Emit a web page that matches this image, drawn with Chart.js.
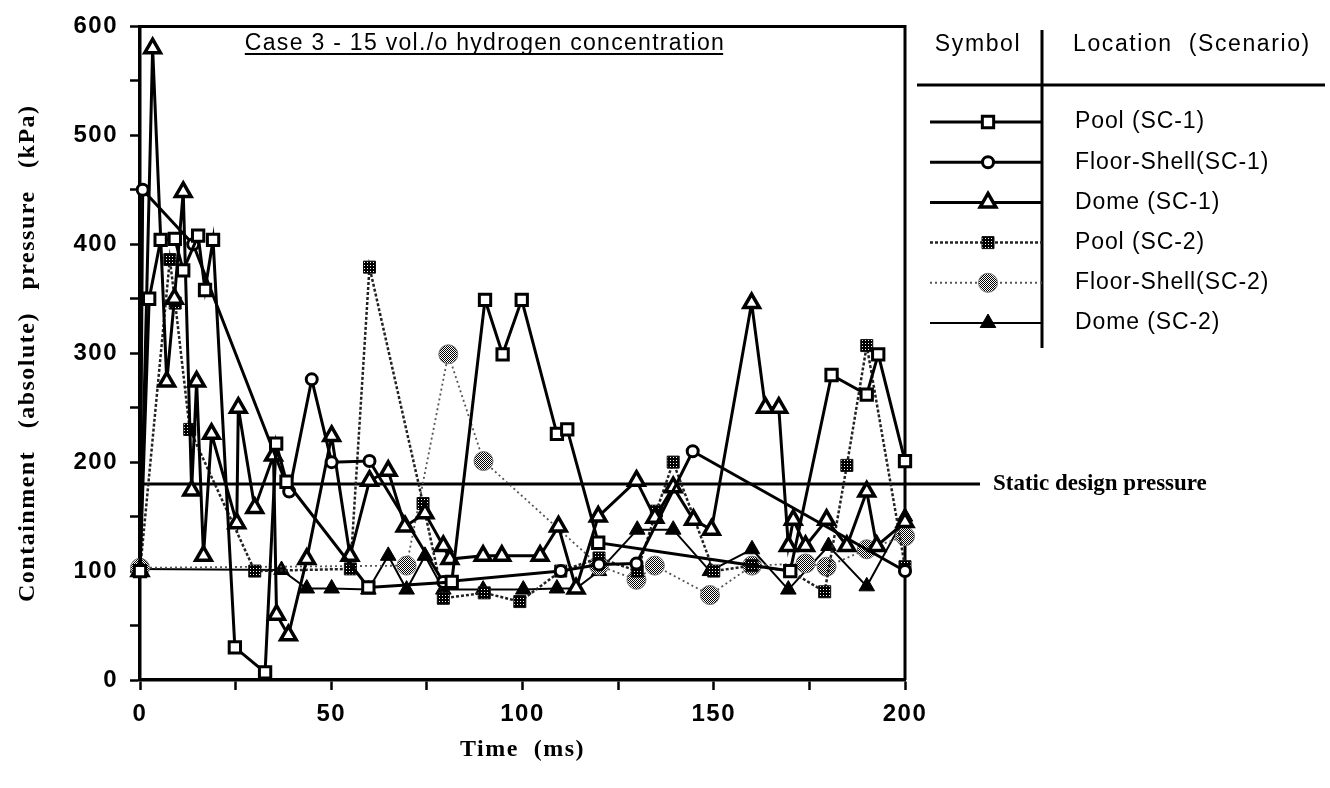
<!DOCTYPE html>
<html>
<head>
<meta charset="utf-8">
<title>Containment pressure - Case 3</title>
<script src="https://cdn.jsdelivr.net/npm/chart.js@4.4.1/dist/chart.umd.min.js"></script>
<style>
html,body{margin:0;padding:0;background:#fff;}
#box{width:1330px;height:788px;position:relative;}
canvas{display:block;}
</style>
</head>
<body>
<div id="box"><canvas id="chart" width="1330" height="788"></canvas></div>
<script>
// ---------------- data ----------------
const poolSC1Time  = [0, 2.4, 5.4, 9.1, 11.3, 15.2, 17, 19.1, 24.8, 32.7, 35.6, 38.3, 59.7, 81.5, 90.2, 94.8, 99.8, 109, 111.7, 119.8, 170, 180.8, 190, 193, 200];
const poolSC1Press = [100, 350, 404, 405, 376, 408, 358, 404, 30, 7, 217, 182, 85, 90, 349, 299, 349, 226, 230, 126, 100, 280, 262, 299, 201];

const floorSC1Time  = [0, 0.7, 13.9, 39, 44.9, 50.1, 60, 79.3, 110, 120, 129.8, 144.5, 200];
const floorSC1Press = [100, 450, 400, 173, 276, 200, 201, 90, 100, 106, 107, 210, 100];

const domeSC1Time  = [0, 3.3, 7, 9, 11.3, 13.5, 14.8, 16.6, 18.7, 25.3, 25.7, 30, 34.9, 35.7, 38.8, 43.6, 50.1, 54.9, 60, 64.9, 69.3, 74.5, 79.3, 81, 89.7, 94.6, 104.6, 109.4, 114, 119.8, 129.8, 134.6, 139.4, 144.7, 149.4, 159.9, 163.5, 167, 169.5, 170.8, 174, 179.5, 184.8, 190, 192.6, 200];
const domeSC1Press = [100, 580, 274, 350, 448, 174, 274, 114, 226, 144, 250, 158, 206, 60, 41, 111, 224, 114, 183, 192, 141, 153, 123, 111, 114, 114, 114, 141, 84, 150, 183, 149, 177, 147, 138, 346, 250, 250, 123, 147, 123, 147, 123, 173, 123, 145];

const poolSC2Time  = [0, 7.8, 9.2, 13, 30, 55, 60, 74, 79.3, 90, 99.3, 110, 120, 130, 135, 139.4, 150, 160, 170, 179, 184.8, 190, 200];
const poolSC2Press = [100, 386, 346, 230, 100, 102, 379, 162, 75, 80, 72, 100, 112, 100, 155, 200, 100, 105, 100, 81, 197, 307, 104];

const floorSC2Time  = [0, 69.7, 80.6, 89.8, 120, 129.8, 134.6, 149, 160, 174, 179.5, 190, 200];
const floorSC2Press = [103, 105, 299, 201, 105, 92, 105, 78, 105, 107, 104, 120, 132];

const domeSC2Time  = [0, 37, 43.6, 50.1, 59.7, 64.9, 69.7, 74.5, 79.3, 89.7, 100.2, 109, 114, 120, 130, 139.4, 149, 160, 169.5, 180, 190, 200];
const domeSC2Press = [102, 101, 84, 84, 83, 114, 83, 114, 83, 83, 83, 84, 84, 100, 138, 138, 100, 120, 83, 123, 86, 150];

const legendLabels = ['Pool (SC-1)', 'Floor-Shell(SC-1)', 'Dome (SC-1)', 'Pool (SC-2)', 'Floor-Shell(SC-2)', 'Dome (SC-2)'];
const legendHeader = ['Symbol', 'Location  (Scenario)'];
const chartTitle = 'Case 3 - 15 vol./o hydrogen concentration';
const xAxisTitle = 'Time  (ms)';
const yAxisTitle = 'Containment   (absolute)   pressure   (kPa)';
const staticDesignPressure = 180;
const staticLabel = 'Static design pressure';
const xMajorStep = 50, yMajorStep = 100;

// ---------------- helpers ----------------
function pts(t, p) { return t.map((x, i) => ({x: x, y: p[i]})); }
function makePattern(size, darkCells) {
  const c = document.createElement('canvas'); c.width = size; c.height = size;
  const g = c.getContext('2d');
  g.fillStyle = '#fff'; g.fillRect(0, 0, size, size);
  g.fillStyle = '#000';
  darkCells.forEach(([a, b]) => g.fillRect(a, b, 1, 1));
  return document.getElementById('chart').getContext('2d').createPattern(c, 'repeat');
}
const lightHatch = makePattern(2, [[0, 0], [1, 1]]);
const darkHatch = makePattern(3, [[0,0],[1,0],[2,0],[0,1],[2,1],[0,2],[1,2],[2,2]]);

const styles = [
  {pointStyle: 'rect',     radius: 8,   fill: '#fff',      stroke: '#000', pbw: 3,   line: '#000', lw: 3,   dash: []},
  {pointStyle: 'circle',   radius: 5.5, fill: '#fff',      stroke: '#000', pbw: 3,   line: '#000', lw: 3,   dash: []},
  {pointStyle: 'triangle', radius: 9,   fill: '#fff',      stroke: '#000', pbw: 3.5, line: '#000', lw: 3,   dash: []},
  {pointStyle: 'rect',     radius: 8.5, fill: darkHatch,   stroke: '#111', pbw: 1,   line: '#222', lw: 2.5, dash: [3, 2]},
  {pointStyle: 'circle',   radius: 9.5, fill: lightHatch,  stroke: '#777', pbw: 1,   line: '#555', lw: 1.8, dash: [2, 3]},
  {pointStyle: 'triangle', radius: 9,   fill: '#000',      stroke: '#000', pbw: 1,   line: '#000', lw: 2,   dash: []}
];
const series = [
  [poolSC1Time, poolSC1Press], [floorSC1Time, floorSC1Press], [domeSC1Time, domeSC1Press],
  [poolSC2Time, poolSC2Press], [floorSC2Time, floorSC2Press], [domeSC2Time, domeSC2Press]
];
const datasets = series.map((s, i) => {
  const st = styles[i];
  return {
    label: legendLabels[i], data: pts(s[0], s[1]),
    borderColor: st.line, borderWidth: st.lw, borderDash: st.dash,
    pointStyle: st.pointStyle, pointRadius: st.radius, pointHoverRadius: st.radius,
    pointBackgroundColor: st.fill, pointBorderColor: st.stroke, pointBorderWidth: st.pbw,
    tension: 0, fill: false, clip: false
  };
});

function drawMarker(ctx, st, x, y) {
  ctx.save();
  ctx.setLineDash([]);
  ctx.fillStyle = st.fill; ctx.strokeStyle = st.stroke; ctx.lineWidth = st.pbw;
  Chart.helpers.drawPoint(ctx, {pointStyle: st.pointStyle, radius: st.radius, rotation: 0, borderWidth: st.pbw}, x, y);
  ctx.restore();
}

const decor = {
  id: 'decor',
  beforeDraw(c) {
    const ctx = c.ctx;
    ctx.save(); ctx.fillStyle = '#fff'; ctx.fillRect(0, 0, c.width, c.height); ctx.restore();
    ctx.letterSpacing = '1.5px';
  },
  beforeDatasetsDraw(c) {
    const ctx = c.ctx, ca = c.chartArea, ys = c.scales.y;
    ctx.save();
    ctx.strokeStyle = '#000'; ctx.lineWidth = 3; ctx.setLineDash([]);
    // frame (top & right)
    ctx.beginPath(); ctx.moveTo(ca.left, ca.top); ctx.lineTo(ca.right, ca.top); ctx.lineTo(ca.right, ca.bottom); ctx.stroke();
    // static design pressure line
    const yy = ys.getPixelForValue(staticDesignPressure);
    ctx.beginPath(); ctx.moveTo(ca.left, yy); ctx.lineTo(ca.right + 75, yy); ctx.stroke();
    ctx.restore();
  },
  afterDraw(c) {
    const ctx = c.ctx, ca = c.chartArea, ys = c.scales.y;
    ctx.save();
    ctx.fillStyle = '#000'; ctx.strokeStyle = '#000';
    // static label
    ctx.font = 'bold 23px "Liberation Serif", "Times New Roman", serif';
    ctx.letterSpacing = '0px'; ctx.textBaseline = 'middle'; ctx.textAlign = 'left';
    ctx.fillText(staticLabel, ca.right + 88, ys.getPixelForValue(staticDesignPressure));
    // title (underlined)
    ctx.font = '23px "Liberation Sans", Arial, sans-serif';
    ctx.letterSpacing = '1.3px'; ctx.textBaseline = 'alphabetic';
    const tw = ctx.measureText(chartTitle).width;
    const tx = 485 - tw / 2;
    ctx.fillText(chartTitle, tx, 50);
    ctx.fillRect(tx, 53, tw - 2, 2);
    // legend table
    const lx0 = 917, lx1 = 1325, vx = 1042;
    ctx.lineWidth = 3;
    ctx.beginPath(); ctx.moveTo(vx, 30); ctx.lineTo(vx, 348); ctx.stroke();
    ctx.beginPath(); ctx.moveTo(lx0, 85); ctx.lineTo(lx1, 85); ctx.stroke();
    ctx.font = '23px "Liberation Sans", Arial, sans-serif';
    ctx.letterSpacing = '1.6px'; ctx.textBaseline = 'middle';
    ctx.textAlign = 'center'; ctx.fillText(legendHeader[0], 978, 45);
    ctx.textAlign = 'left'; ctx.fillText(legendHeader[1], 1073, 45);
    ctx.letterSpacing = '0.9px';
    legendLabels.forEach((lab, i) => {
      const y = 122 + i * 40.2, st = styles[i];
      ctx.save();
      ctx.strokeStyle = st.line; ctx.lineWidth = Math.max(st.lw, 2); ctx.setLineDash(st.dash);
      ctx.beginPath(); ctx.moveTo(930, y); ctx.lineTo(vx, y); ctx.stroke();
      ctx.restore();
      drawMarker(ctx, st, 988, y);
      ctx.fillStyle = '#000'; ctx.textAlign = 'left';
      ctx.fillText(lab, 1075, y);
    });
    ctx.restore();
  }
};

const tickFont = {family: '"Liberation Sans", Arial, sans-serif', size: 24, weight: 'bold'};
const titleFont = {family: '"Liberation Serif", "Times New Roman", serif', size: 24, weight: 'bold'};

new Chart(document.getElementById('chart'), {
  type: 'line',
  data: {datasets: datasets},
  options: {
    responsive: false, animation: false, devicePixelRatio: 1,
    layout: {padding: {left: 0, top: 14, right: 425, bottom: 0}},
    plugins: {legend: {display: false}, tooltip: {enabled: false}, title: {display: false}},
    scales: {
      x: {
        type: 'linear', min: 0, max: 200,
        afterFit: s => { s.height = 108; },
        ticks: {stepSize: 25, autoSkip: false, maxRotation: 0, padding: 10, color: '#000', font: tickFont,
                callback: v => (v % xMajorStep === 0 ? String(v) : '')},
        grid: {drawOnChartArea: false, drawTicks: true, tickLength: 10, tickWidth: 2.5, tickColor: '#000'},
        border: {display: true, color: '#000', width: 3.5},
        title: {display: true, text: xAxisTitle, color: '#000', font: titleFont, padding: {top: 0, bottom: 24}}
      },
      y: {
        type: 'linear', min: 0, max: 600,
        afterFit: s => { s.width = 140; },
        ticks: {stepSize: 50, autoSkip: false, padding: 12, color: '#000', font: tickFont,
                callback: v => (v % yMajorStep === 0 ? String(v) : '')},
        grid: {drawOnChartArea: false, drawTicks: true, tickLength: 10, tickWidth: 2.5, tickColor: '#000'},
        border: {display: true, color: '#000', width: 3.5},
        title: {display: true, text: yAxisTitle, color: '#000', font: titleFont, padding: {top: 13, bottom: 0}}
      }
    }
  },
  plugins: [decor]
});
</script>
</body>
</html>
